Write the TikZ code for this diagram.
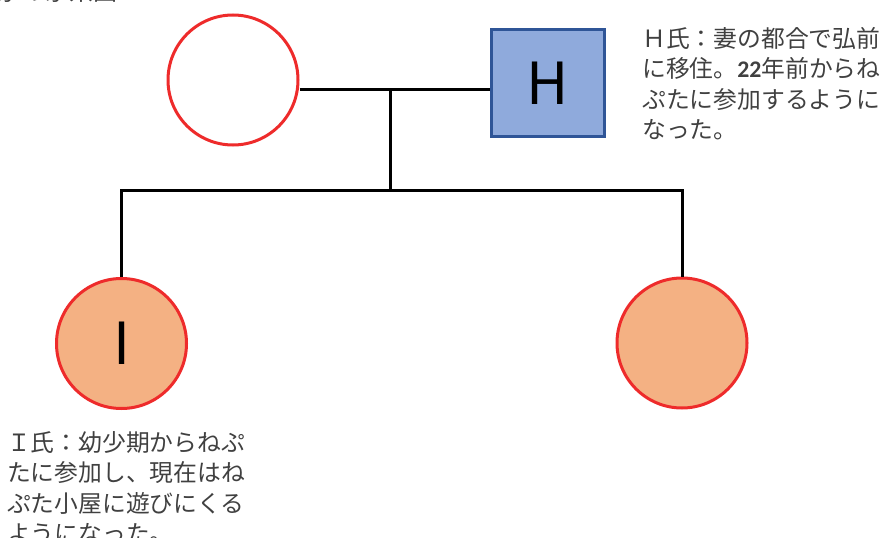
\documentclass[tikz,border=0pt]{standalone}
\usepackage{fontspec}
\newfontfamily\jpfont{Noto Sans CJK JP}
\newfontfamily\numfont{Carlito}
\definecolor{femaleline}{HTML}{EE2B2B}
\definecolor{childfill}{HTML}{F4B183}
\definecolor{malefill}{HTML}{8FAADC}
\definecolor{maleline}{HTML}{2F5597}
\definecolor{notegray}{HTML}{404040}

\begin{document}
\begin{tikzpicture}[x=1pt, y=-1pt]
    \tikzset{
      female/.style={circle, draw=femaleline, line width=3pt, fill=white,
        minimum size=130pt, inner sep=0pt, font=\jpfont\fontsize{58}{58}\selectfont},
      male/.style={rectangle, draw=maleline, line width=3pt, fill=malefill,
        minimum width=113pt, minimum height=107pt, inner sep=0pt,
        font=\jpfont\fontsize{58}{58}\selectfont},
      kin/.style={line width=3pt, black},
      note/.style={font=\jpfont\fontsize{23.8}{30.5}\selectfont, text=notegray,
        align=left, anchor=north west, inner sep=0pt}
    }
    \useasboundingbox (0,0) rectangle (887,538);
    \clip (0,0) rectangle (887,538);

    % title, cut off at the top edge
    \node[font=\jpfont\fontsize{24}{24}\selectfont, text=notegray,
      anchor=base west, inner sep=0pt] (title) at (-3,1) {家の家系図};

    % parents
    \node[female] (wife) at (233,80) {};
    \node[male] (h) at (547.5,83) {H};

    % children
    \node[female, fill=childfill] (i) at (121.5,343.5) {I};
    \node[female, fill=childfill] (sister) at (682,343) {};

    % lines
    \coordinate (couple) at (390,89);
    \coordinate (sibs) at (390,190);
    \draw[kin] (wife.east |- couple) -- (h.west |- couple);
    \draw[kin] (couple) -- (sibs);
    \draw[kin] (i.north) |- (sibs) -| (sister.north);

    % notes
    \node[note] (hnote) at (642,27)
      {Ｈ氏：妻の都合で弘前\\に移住。{\numfont\bfseries 22}年前からね\\ぷたに参加するように\\なった。};
    \node[note] (inote) at (7,431)
      {Ｉ氏：幼少期からねぷ\\たに参加し、現在はね\\ぷた小屋に遊びにくる\\ようになった。};
\end{tikzpicture}
\end{document}
